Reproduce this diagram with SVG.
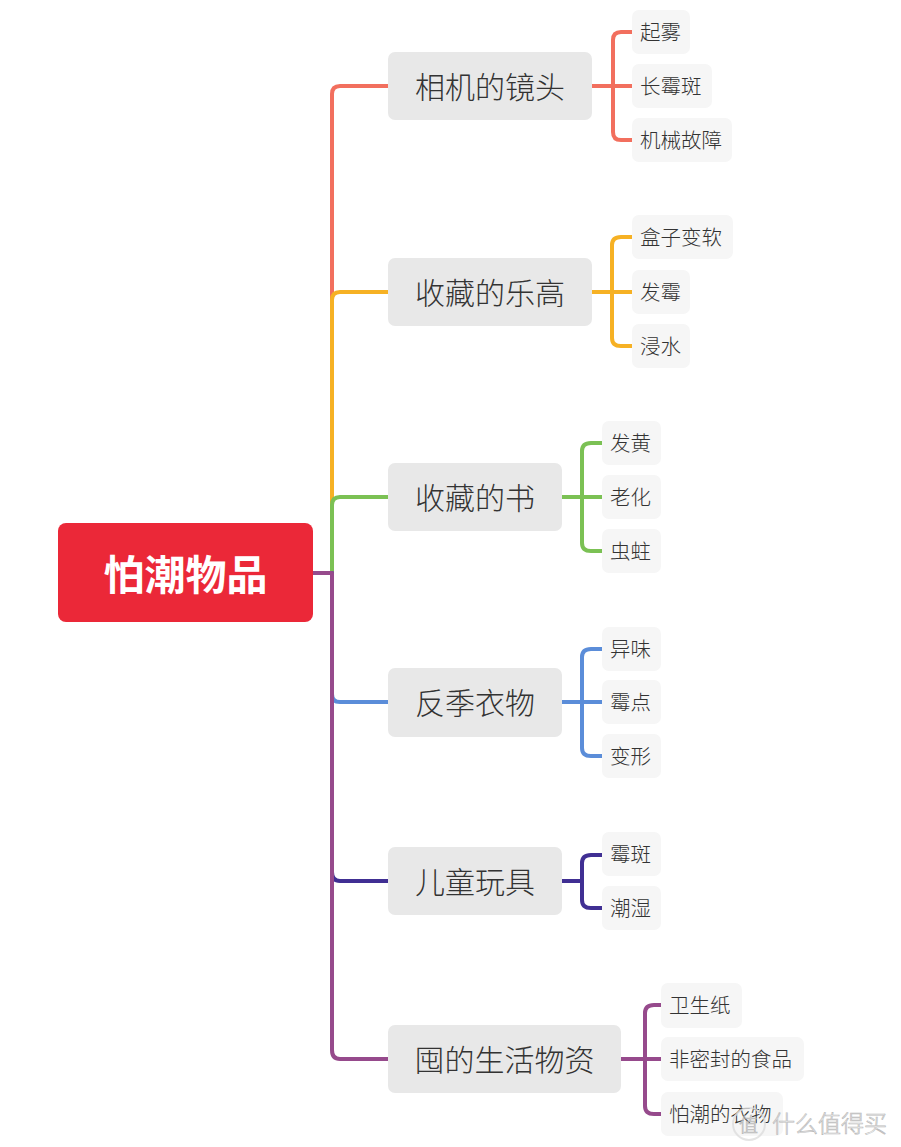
<svg xmlns="http://www.w3.org/2000/svg" width="901" height="1147" viewBox="0 0 901 1147">
<style>
.root{fill:#EB2838}
.main{fill:#E8E8E8}
.sub{fill:#F6F6F6}
.rt{font-family:"Noto Sans CJK SC","Noto Sans",sans-serif;font-size:41px;font-weight:bold;fill:#fff;text-anchor:middle;dominant-baseline:central}
.mt{font-family:"Noto Sans CJK SC","Noto Sans",sans-serif;font-size:30px;font-weight:300;fill:#333;text-anchor:middle;dominant-baseline:central}
.st{font-family:"Noto Sans CJK SC","Noto Sans",sans-serif;font-size:20.5px;font-weight:300;fill:#333;dominant-baseline:central}
.ln{fill:none;stroke-width:4;stroke-linecap:butt;stroke-linejoin:round}
.c1{stroke:#F26F5E}.c2{stroke:#F6B124}.c3{stroke:#7BC154}.c4{stroke:#5B8DD9}.c5{stroke:#402F93}.c6{stroke:#964A8C}
.wm{font-family:"Noto Sans CJK SC",sans-serif;font-size:23px;font-weight:300;fill:#fff;stroke:#aaa;stroke-width:0.7;opacity:0.8}
</style>
<g id="connectors">
<path class="ln c1" d="M313 573 H332 V94 Q332 86 340 86 H388"/>
<path class="ln c2" d="M313 573 H332 V300 Q332 292 340 292 H388"/>
<path class="ln c3" d="M313 573 H332 V505 Q332 497 340 497 H388"/>
<path class="ln c4" d="M313 573 H332 V694 Q332 702 340 702 H388"/>
<path class="ln c5" d="M313 573 H332 V872 Q332 881 340 881 H388"/>
<path class="ln c6" d="M313 573 H332 V1050 Q332 1059 340 1059 H388"/>
<path class="ln c1" d="M592 86 H632 M632 32 H621 Q613 32 613 40 V132 Q613 140 621 140 H632"/>
<path class="ln c2" d="M592 292 H632 M632 237 H621 Q612 237 612 245 V338 Q612 346 621 346 H632"/>
<path class="ln c3" d="M562 497 H602 M602 443 H591 Q582 443 582 451 V543 Q582 551 591 551 H602"/>
<path class="ln c4" d="M562 702 H602 M602 649 H591 Q582 649 582 657 V748 Q582 756 591 756 H602"/>
<path class="ln c5" d="M562 881 H582 M602 855 H591 Q582 855 582 863 V900 Q582 908 591 908 H602"/>
<path class="ln c6" d="M621 1059 H661 M661 1005 H654 Q645 1005 645 1013 V1106 Q645 1114 654 1114 H661"/>
</g>
<g id="root"><rect class="root" x="58" y="523" width="255" height="99" rx="8"/><text class="rt" x="185.5" y="572">怕潮物品</text></g>
<g id="n1"><rect class="main" x="388" y="52" width="204" height="68" rx="7"/><text class="mt" x="490" y="85">相机的镜头</text></g>
<g id="n2"><rect class="main" x="388" y="258" width="204" height="68" rx="7"/><text class="mt" x="490" y="291">收藏的乐高</text></g>
<g id="n3"><rect class="main" x="388" y="463" width="174" height="68" rx="7"/><text class="mt" x="475" y="496">收藏的书</text></g>
<g id="n4"><rect class="main" x="388" y="668" width="174" height="69" rx="7"/><text class="mt" x="475" y="701">反季衣物</text></g>
<g id="n5"><rect class="main" x="388" y="847" width="174" height="68" rx="7"/><text class="mt" x="475" y="880">儿童玩具</text></g>
<g id="n6"><rect class="main" x="388" y="1025" width="233" height="68" rx="7"/><text class="mt" x="504.5" y="1058">囤的生活物资</text></g>
<g id="s1a"><rect class="sub" x="632" y="10" width="58" height="44" rx="7"/><text class="st" x="640" y="31">起雾</text></g>
<g id="s1b"><rect class="sub" x="632" y="64" width="80" height="44" rx="7"/><text class="st" x="640" y="85">长霉斑</text></g>
<g id="s1c"><rect class="sub" x="632" y="118" width="100" height="44" rx="7"/><text class="st" x="640" y="139">机械故障</text></g>
<g id="s2a"><rect class="sub" x="632" y="215" width="101" height="44" rx="7"/><text class="st" x="640" y="236">盒子变软</text></g>
<g id="s2b"><rect class="sub" x="632" y="270" width="58" height="44" rx="7"/><text class="st" x="640" y="291">发霉</text></g>
<g id="s2c"><rect class="sub" x="632" y="324" width="58" height="44" rx="7"/><text class="st" x="640" y="345">浸水</text></g>
<g id="s3a"><rect class="sub" x="602" y="421" width="59" height="44" rx="7"/><text class="st" x="610" y="442">发黄</text></g>
<g id="s3b"><rect class="sub" x="602" y="475" width="59" height="44" rx="7"/><text class="st" x="610" y="496">老化</text></g>
<g id="s3c"><rect class="sub" x="602" y="529" width="59" height="44" rx="7"/><text class="st" x="610" y="550">虫蛀</text></g>
<g id="s4a"><rect class="sub" x="602" y="627" width="59" height="44" rx="7"/><text class="st" x="610" y="648">异味</text></g>
<g id="s4b"><rect class="sub" x="602" y="680" width="59" height="44" rx="7"/><text class="st" x="610" y="701">霉点</text></g>
<g id="s4c"><rect class="sub" x="602" y="734" width="59" height="44" rx="7"/><text class="st" x="610" y="755">变形</text></g>
<g id="s5a"><rect class="sub" x="602" y="832" width="59" height="44" rx="7"/><text class="st" x="610" y="853">霉斑</text></g>
<g id="s5b"><rect class="sub" x="602" y="886" width="59" height="44" rx="7"/><text class="st" x="610" y="907">潮湿</text></g>
<g id="s6a"><rect class="sub" x="661" y="983" width="81" height="45" rx="7"/><text class="st" x="669" y="1004">卫生纸</text></g>
<g id="s6b"><rect class="sub" x="661" y="1037" width="143" height="44" rx="7"/><text class="st" x="669" y="1058">非密封的食品</text></g>
<g id="s6c"><rect class="sub" x="661" y="1092" width="122" height="44" rx="7"/><text class="st" x="669" y="1113">怕潮的衣物</text></g>
<g id="watermark">
<circle cx="749" cy="1124" r="16" fill="none" stroke="#ddd" stroke-width="2" opacity="0.8"/>
<text class="wm" x="739" y="1132" style="font-size:19px">值</text>
<text class="wm" x="772" y="1132">什么值得买</text>
</g>
</svg>
